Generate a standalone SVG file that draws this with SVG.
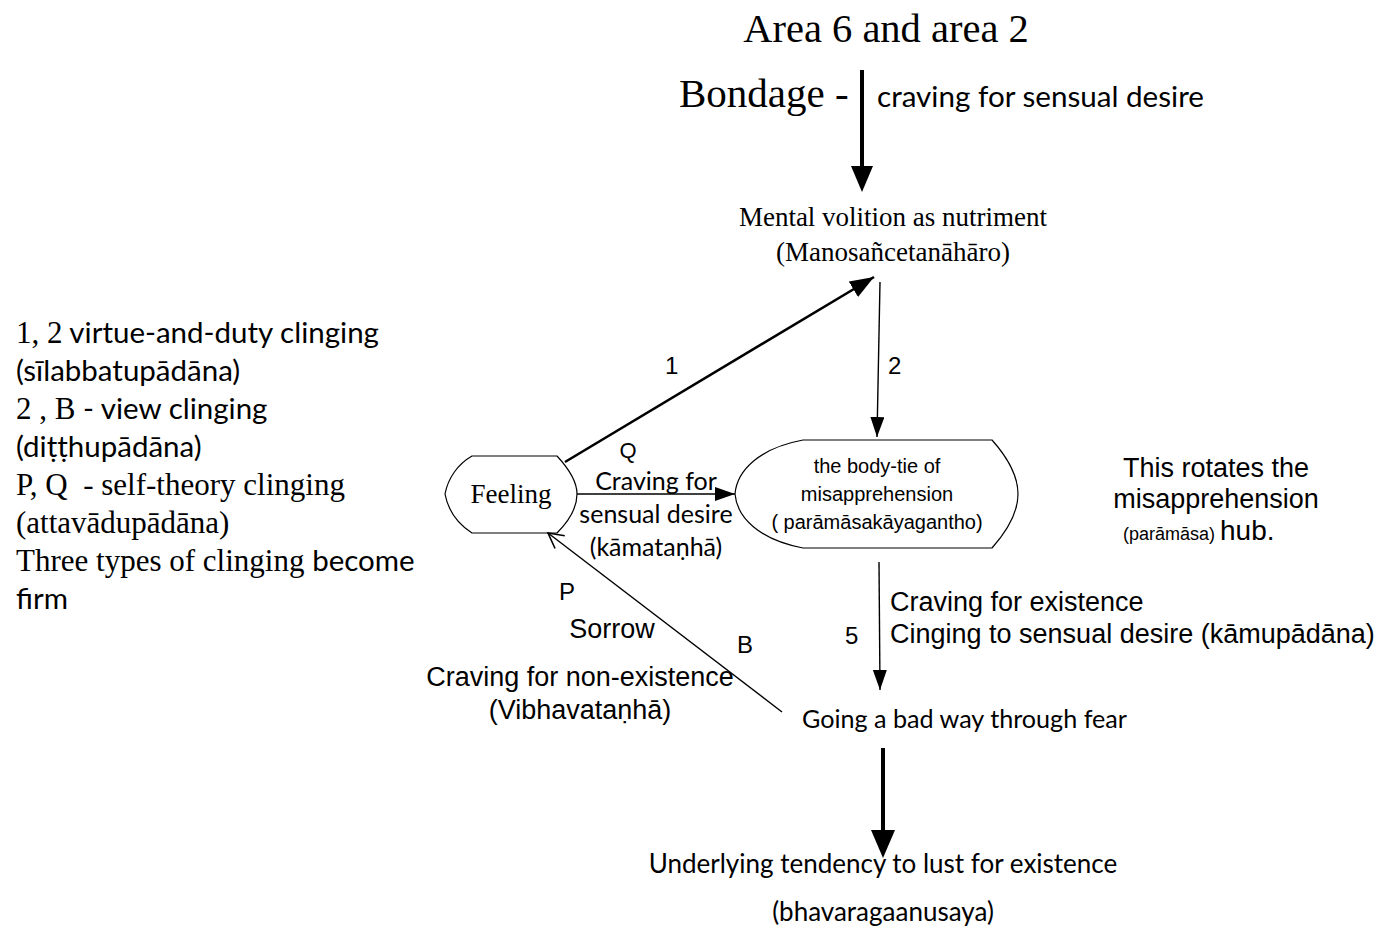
<svg xmlns="http://www.w3.org/2000/svg" width="1381" height="947" viewBox="0 0 1381 947">
<style>
.serif{font-family:"Liberation Serif","Times New Roman",serif;fill:#000}
.cal{font-family:Lato,"Open Sans","Liberation Sans",sans-serif;fill:#000}
.ar{font-family:"Liberation Sans",Arial,sans-serif;fill:#000}
.nar{font-family:"Liberation Sans Narrow","Liberation Sans",Arial,sans-serif;fill:#000}
.shape{fill:#fff;stroke:#000;stroke-width:1.2}
.thin{fill:none;stroke:#000;stroke-width:1.4}
.thick{fill:none;stroke:#000;stroke-width:4}
</style>
<defs>
<marker id="fh" markerUnits="userSpaceOnUse" markerWidth="22" markerHeight="16" refX="20" refY="7" orient="auto">
<path d="M0,0 L20,7 L0,14 Z" fill="#000"/>
</marker>
<marker id="fhb" markerUnits="userSpaceOnUse" markerWidth="26" markerHeight="20" refX="24" refY="9" orient="auto">
<path d="M0,0 L24,9 L0,18 Z" fill="#000"/>
</marker>
<marker id="oh" markerUnits="userSpaceOnUse" markerWidth="20" markerHeight="20" refX="16" refY="9" orient="auto">
<path d="M1,1 L16,9 L1,17" fill="none" stroke="#000" stroke-width="1.6"/>
</marker>
</defs>

<g id="title">
<text class="serif" x="886" y="42" font-size="40.5" text-anchor="middle">Area 6 and area 2</text>
<text class="serif" x="679" y="107" font-size="41">Bondage -</text>
<text class="cal" x="877" y="107" font-size="28" textLength="327" lengthAdjust="spacingAndGlyphs">craving for sensual desire</text>
</g>

<g id="legend">
<text class="cal" x="16" y="343" font-size="29.5"><tspan class="serif" font-size="31">1, 2</tspan> virtue-and-duty clinging</text>
<text class="cal" x="16" y="381" font-size="29.5">(sīlabbatupādāna)</text>
<text class="cal" x="16" y="419" font-size="29.5"><tspan class="serif" font-size="31">2 , B</tspan> - view clinging</text>
<text class="cal" x="16" y="457" font-size="29.5">(diṭṭhupādāna)</text>
<text class="serif" x="16" y="495" font-size="31">P, Q &#160;- self-theory clinging</text>
<text class="serif" x="16" y="533" font-size="31">(attavādupādāna)</text>
<text class="serif" x="16" y="571" font-size="31">Three types of clinging <tspan class="cal" font-size="29.5">become</tspan></text>
<text class="cal" x="16" y="609" font-size="29.5">firm</text>
</g>

<g id="mental-volition">
<text class="serif" x="893" y="226" font-size="27" text-anchor="middle">Mental volition as nutriment</text>
<text class="serif" x="893" y="261" font-size="27" text-anchor="middle">(Manosañcetanāhāro)</text>
</g>

<g id="feeling">
<path class="shape" d="M472,456 L557,456 C570,470 577,482 577,494 C577,506 570,520 557,533 L472,533 C458,524 448,510 445,494 C448,478 458,464 472,456 Z"/>
<text class="serif" x="511" y="503" font-size="27" text-anchor="middle">Feeling</text>
</g>

<g id="body-tie">
<path class="shape" d="M803,440 L992,440 C1008,458 1018,476 1018,494 C1018,512 1008,530 992,548 L803,548 C760,540 737,518 735,494 C737,470 760,448 803,440 Z"/>
<text class="ar" x="877" y="473" font-size="20" text-anchor="middle">the body-tie of</text>
<text class="ar" x="877" y="501" font-size="20" text-anchor="middle">misapprehension</text>
<text class="ar" x="877" y="529" font-size="20" text-anchor="middle">( parāmāsakāyagantho)</text>
</g>

<g id="hub-note">
<text class="ar" x="1216" y="477" font-size="27" text-anchor="middle">This rotates the</text>
<text class="ar" x="1216" y="508" font-size="27" text-anchor="middle">misapprehension</text>
<text class="ar" x="1123" y="540" font-size="18">(parāmāsa) <tspan font-size="28">hub.</tspan></text>
</g>

<g id="going-bad-way">
<text class="cal" x="802" y="728" font-size="25" textLength="325" lengthAdjust="spacingAndGlyphs">Going a bad way through fear</text>
</g>

<g id="underlying-tendency">
<text class="cal" x="883" y="873" font-size="26" text-anchor="middle">Underlying tendency to lust for existence</text>
<text class="cal" x="883" y="921" font-size="26" text-anchor="middle">(bhavaragaanusaya)</text>
</g>

<g id="connectors">
<line class="thick" x1="862" y1="70" x2="862" y2="170"/>
<polygon points="851,166 873,166 862,192" fill="#000"/>
<line class="thick" x1="883" y1="748" x2="883" y2="834"/>
<polygon points="871,830 895,830 883,858" fill="#000"/>
<line x1="565" y1="462" x2="874" y2="277" stroke="#000" stroke-width="2.6" marker-end="url(#fhb)"/>
<line class="thin" x1="880" y1="282" x2="877" y2="437" marker-end="url(#fh)"/>
<line class="thin" x1="577" y1="494" x2="735" y2="494" marker-end="url(#fh)"/>
<line class="thin" x1="879" y1="562" x2="880" y2="690" marker-end="url(#fh)"/>
<line class="thin" x1="782" y1="712" x2="548" y2="533" marker-end="url(#oh)"/>
</g>

<g id="labels">
<text class="ar" x="665" y="374" font-size="24">1</text>
<text class="ar" x="888" y="374" font-size="24">2</text>
<text class="ar" x="628" y="458" font-size="22" text-anchor="middle">Q</text>
<text class="cal" x="656" y="490" font-size="25" text-anchor="middle">Craving for</text>
<text class="cal" x="656" y="523" font-size="25" text-anchor="middle">sensual desire</text>
<text class="cal" x="656" y="556" font-size="25" text-anchor="middle">(kāmataṇhā)</text>
<text class="ar" x="559" y="600" font-size="24">P</text>
<text class="nar" x="612" y="638" font-size="27" text-anchor="middle">Sorrow</text>
<text class="ar" x="737" y="653" font-size="24">B</text>
<text class="nar" x="580" y="686" font-size="27" text-anchor="middle">Craving for non-existence</text>
<text class="nar" x="580" y="719" font-size="27" text-anchor="middle">(Vibhavataṇhā)</text>
<text class="ar" x="845" y="644" font-size="24">5</text>
<text class="nar" x="890" y="611" font-size="27">Craving for existence</text>
<text class="nar" x="890" y="643" font-size="27">Cinging to sensual desire (kāmupādāna)</text>
</g>
</svg>
